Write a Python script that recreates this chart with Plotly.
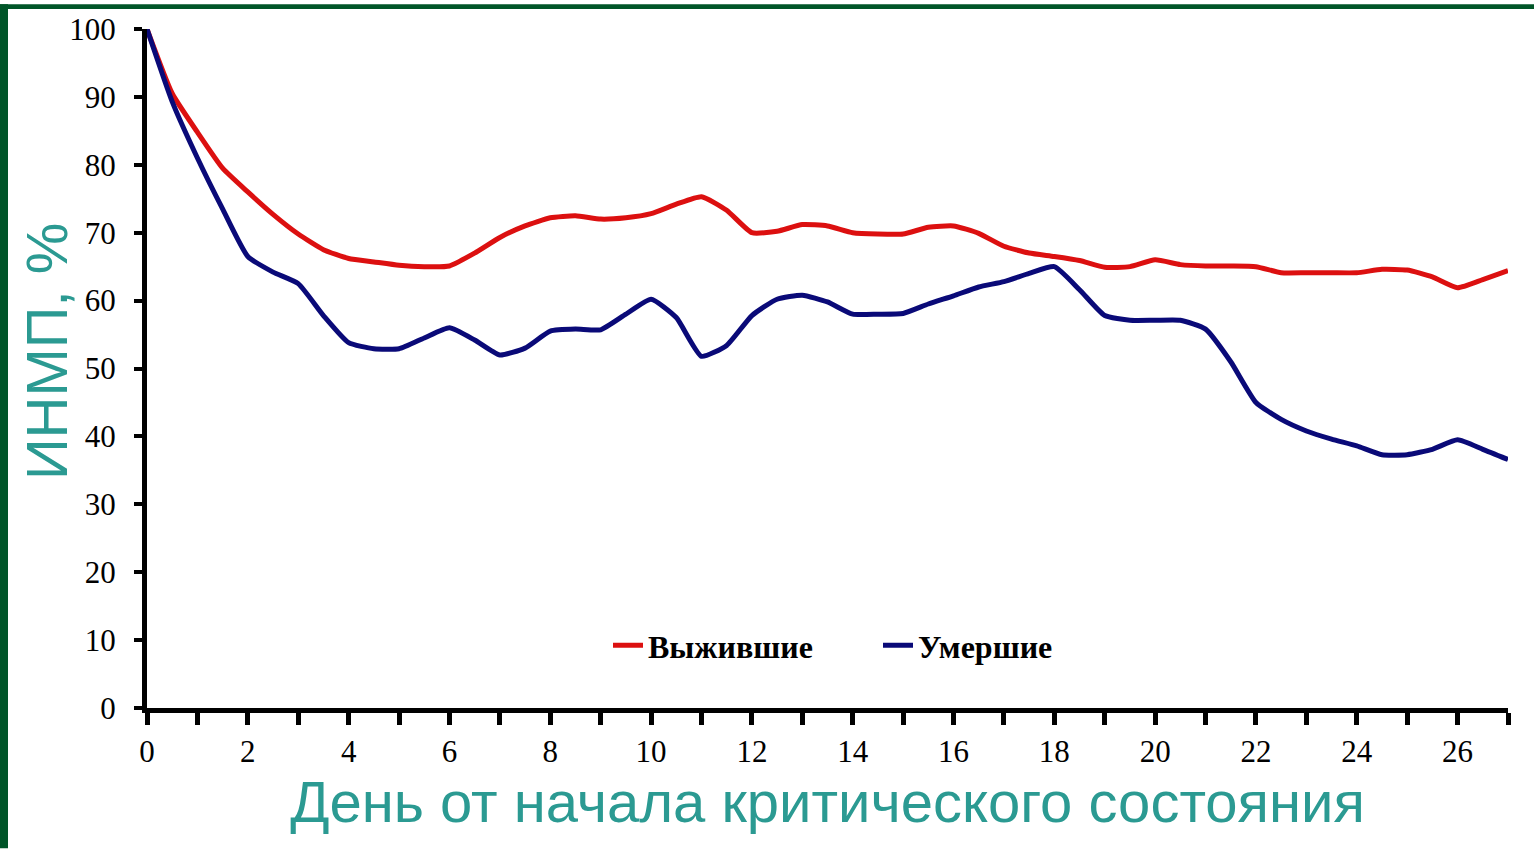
import plotly.graph_objects as go

# Day since onset of the critical state
days = [i * 0.5 for i in range(55)]  # 0 .. 27

# ИНМП, % — survivors
survived = [100, 90.5, 84.8, 79.5, 76.0, 72.7, 69.8, 67.5, 66.2, 65.7,
            65.2, 65.0, 65.1, 67.0, 69.3, 71.0, 72.2, 72.5, 72.0, 72.2,
            72.8, 74.2, 75.3, 73.3, 70.0, 70.2, 71.2, 71.0, 70.0, 69.8,
            69.8, 70.8, 71.0, 69.9, 68.0, 67.0, 66.5, 65.9, 64.9, 65.0,
            66.0, 65.3, 65.1, 65.1, 65.0, 64.1, 64.1, 64.1, 64.1, 64.6,
            64.5, 63.5, 61.9, 63.1, 64.4]

# ИНМП, % — deceased
died = [100, 89.3, 81.0, 73.5, 66.5, 64.2, 62.5, 57.8, 53.8, 52.9,
        52.9, 54.5, 56.0, 54.2, 52.0, 53.0, 55.5, 55.8, 55.7, 58.0,
        60.2, 57.5, 51.8, 53.4, 57.8, 60.2, 60.8, 59.8, 58.0, 58.0,
        58.1, 59.5, 60.7, 62.0, 62.8, 64.0, 65.0, 61.6, 57.8, 57.1,
        57.1, 57.1, 55.8, 51.0, 45.0, 42.5, 40.8, 39.6, 38.6, 37.3,
        37.3, 38.1, 39.5, 38.1, 36.6]

series_names = ["Выжившие", "Умершие"]
x_ticks = list(range(0, 27, 2))
y_ticks = list(range(0, 101, 10))

W, H = 1534, 849
ML, MR, MT, MB = 147, 26, 25, 141
PW, PH = W - ML - MR, H - MT - MB

TEAL = "#2B9A92"
GREEN = "#005528"
SANS = "Liberation Sans, Arial, sans-serif"
SERIF = "Liberation Serif, Times New Roman, serif"

fig = go.Figure()
fig.add_trace(go.Scatter(
    x=days, y=survived, name=series_names[0], mode="lines",
    line=dict(color="#DC1010", width=5, shape="spline", smoothing=0.5),
))
fig.add_trace(go.Scatter(
    x=days, y=died, name=series_names[1], mode="lines",
    line=dict(color="#0A0A78", width=5, shape="spline", smoothing=0.5),
))

tick_font = dict(family=SERIF, size=31, color="black")

fig.update_xaxes(
    range=[0, 27], tickvals=x_ticks, ticktext=[str(v) for v in x_ticks],
    showline=True, linecolor="black", linewidth=5,
    ticks="outside", ticklen=12, tickwidth=5, tickcolor="black",
    minor=dict(dtick=1, ticks="outside", ticklen=12, tickwidth=5, tickcolor="black"),
    showgrid=False, zeroline=False, tickfont=tick_font,
    title=dict(text="День от начала критического состояния",
               font=dict(family=SANS, size=58, color=TEAL),
               standoff=15),
)
fig.update_yaxes(
    range=[0, 100], tickvals=y_ticks,
    showline=True, linecolor="black", linewidth=5,
    ticks="outside", ticklen=8, tickwidth=4, tickcolor="black",
    ticklabelstandoff=12,
    showgrid=False, zeroline=False, tickfont=tick_font,
)

# vertical axis title
fig.add_annotation(
    text="ИНМП, %", textangle=-90, showarrow=False,
    xref="paper", yref="paper", xanchor="center", yanchor="middle",
    x=(46 - ML) / PW, y=(708 - 350) / PH,
    font=dict(family=SANS, size=58, color=TEAL),
)

# dark green frame strips along the left and top edges
fig.add_shape(type="rect", xref="paper", yref="paper", layer="above",
              x0=-ML / PW, x1=(8 - ML) / PW, y0=-MB / PH, y1=1 + MT / PH,
              fillcolor=GREEN, line_width=0)
fig.add_shape(type="rect", xref="paper", yref="paper", layer="above",
              x0=-ML / PW, x1=1 + MR / PW, y0=1 + (MT - 5) / PH, y1=1 + MT / PH,
              fillcolor=GREEN, line_width=0)

fig.update_layout(
    width=W, height=H,
    margin=dict(l=ML, r=MR, t=MT, b=MB),
    paper_bgcolor="white", plot_bgcolor="white",
    showlegend=True,
    legend=dict(orientation="h", x=(608 - ML) / PW, y=(708 - 645) / PH,
                xanchor="left", yanchor="middle", bgcolor="rgba(0,0,0,0)",
                font=dict(family=SERIF, size=32, color="black", weight="bold"),
                itemwidth=30, tracegroupgap=0,
                entrywidth=225, entrywidthmode="pixels"),
)

fig.write_html("out.html")
